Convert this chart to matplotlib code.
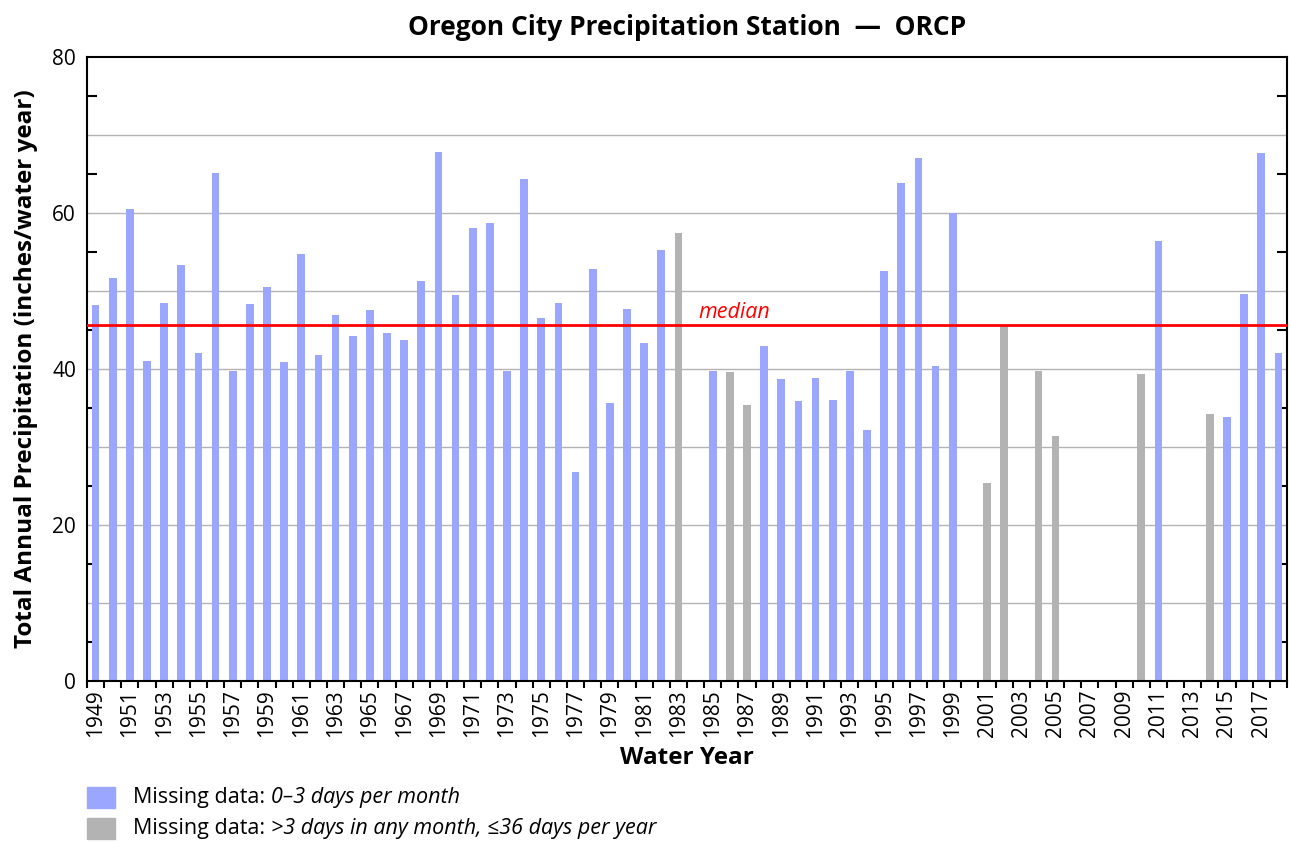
import numpy as np
import matplotlib.pyplot as plt
from matplotlib.patches import Rectangle

plt.rcParams['font.family'] = ['Open Sans', 'DejaVu Sans']

# Annual totals (inches per water year), NaN = no record
years = list(range(1949, 2019))
precip = [48.2, 51.7, 60.5, 41.0, 48.5, 53.3, 42.0, 65.1, 39.7, 48.3,
          50.5, 40.9, 54.8, 41.8, 46.9, 44.2, 47.6, 44.6, 43.7, 51.3,
          67.8, 49.5, 58.1, 58.7, 39.8, 64.4, 46.5, 48.4, 26.8, 52.8,
          35.6, 47.7, 43.3, 55.2, 57.5, np.nan, 39.7, 39.6, 35.4, 43.0,
          38.7, 35.9, 38.8, 36.0, 39.8, 32.2, 52.6, 63.8, 67.0, 40.4,
          60.0, np.nan, 25.4, 45.6, np.nan, 39.7, 31.4, np.nan, np.nan, np.nan,
          np.nan, 39.4, 56.4, np.nan, np.nan, 34.2, 33.8, 49.6, 67.7, 42.1]
# years with >3 missing days in some month
gappy_years = [1983, 1986, 1987, 2001, 2002, 2004, 2005, 2010, 2014]
median_precip = 45.6

blue = '#9ba7ff'
gray = '#b3b3b3'

fig = plt.figure(figsize=(12.91, 8.42), dpi=100)
ax = fig.add_axes([0.0674, 0.1912, 0.9295, 0.7411])

colors = [gray if y in gappy_years else blue for y in years]
ax.bar(years, precip, width=0.45, color=colors, zorder=2)

# grid every 10 inches
for g in np.arange(10, 80, 10):
    ax.axhline(g, color='#b3b3b3', lw=1.0, zorder=1)

ax.axhline(median_precip, color='#ff0000', lw=2.0, zorder=3)
ax.text(1986.25, median_precip + 0.3, 'median', color='#ff0000',
        style='italic', fontsize=15.5, ha='center', va='bottom')

ax.set_xlim(years[0] - 0.5, years[-1] + 0.5)
ax.set_ylim(0, 80)

# y: labels every 20, inward ticks at the odd fives on both sides
ax.set_yticks(np.arange(0, 81, 20))
ax.set_yticks(np.arange(5, 80, 10), minor=True)
ax.tick_params(axis='y', which='major', length=0, labelsize=15, pad=8)
ax.tick_params(axis='y', which='minor', direction='in', length=7, width=1.5,
               left=True, right=True)

# x: ticks at slot edges, labels every other year
ax.set_xticks(np.arange(years[0] - 0.5, years[-1] + 1))
ax.set_xticklabels([])
ax.set_xticks(years[::2], minor=True)
ax.set_xticklabels([str(y) for y in years[::2]], minor=True, rotation=90)
ax.tick_params(axis='x', which='major', direction='out', length=5, width=1.5)
ax.tick_params(axis='x', which='minor', length=0, labelsize=15, pad=6)

for s in ax.spines.values():
    s.set_linewidth(1.5)

ax.set_title('Oregon City Precipitation Station  \u2014  ORCP',
             fontsize=19, fontweight='bold', pad=16)
ax.set_xlabel('Water Year', fontsize=17.5, fontweight='bold', labelpad=6)
ax.set_ylabel('Total Annual Precipitation (inches/water year)',
              fontsize=17.5, fontweight='bold', labelpad=10)

# legend below the plot
legend_rows = [
    (blue, 'Missing data: ', '0\u20133 days per month', 0.0404),
    (gray, 'Missing data: ', '>3 days in any month, \u226436 days per year', 0.0036),
]
for col, plain, ital, yb in legend_rows:
    fig.patches.append(Rectangle((0.0674, yb), 0.0217, 0.0250,
                                 transform=fig.transFigure, color=col))
    t = fig.text(0.103, yb + 0.0125, plain, fontsize=15.5, va='center')
    ax.annotate(ital, xy=(1, 0.5), xycoords=t, fontsize=15.5, style='italic',
                va='center', ha='left', annotation_clip=False)

fig.savefig('out.png', dpi=100)
